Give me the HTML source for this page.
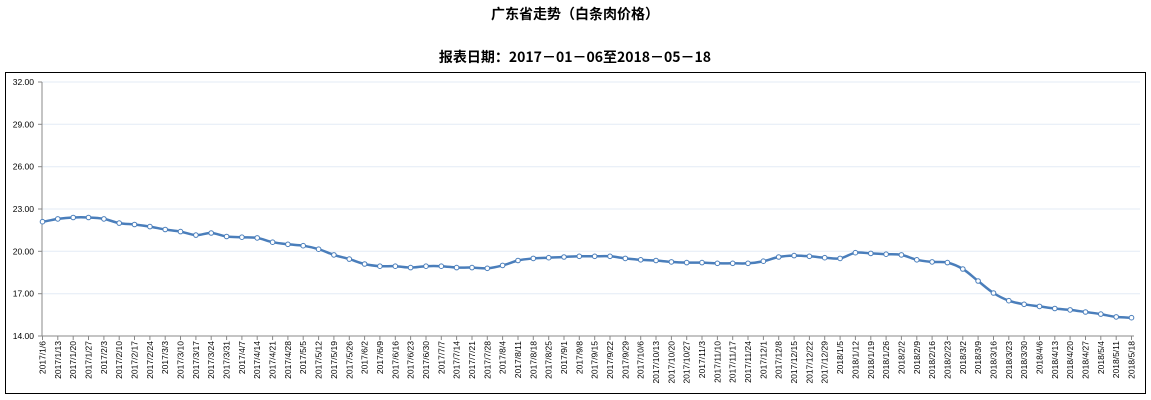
<!DOCTYPE html><html><head><meta charset="utf-8"><style>body{margin:0;background:#fff}svg{display:block}</style></head><body>
<svg id="s" width="1151" height="400" xmlns="http://www.w3.org/2000/svg" font-family="Liberation Sans, Noto Sans CJK SC, sans-serif">
<text x="575" y="19" text-anchor="middle" font-size="14" font-weight="bold" font-family="Noto Sans CJK SC, sans-serif">广东省走势（白条肉价格）</text>
<text x="575" y="62" text-anchor="middle" font-size="14" font-weight="bold" font-family="Noto Sans CJK SC, sans-serif">报表日期：2017－01－06至2018－05－18</text>
<rect x="5.5" y="72.5" width="1140" height="321" fill="none" stroke="#000" stroke-width="1"/>
<g id="g"></g>
</svg>
<script>
var v=[22.1,22.3,22.4,22.4,22.3,22.0,21.9,21.75,21.55,21.4,21.15,21.3,21.05,21.0,20.95,20.65,20.5,20.4,20.15,19.75,19.45,19.1,18.95,18.95,18.85,18.95,18.95,18.85,18.85,18.8,19.0,19.35,19.5,19.55,19.6,19.65,19.65,19.65,19.5,19.4,19.35,19.25,19.2,19.2,19.15,19.15,19.15,19.3,19.6,19.7,19.65,19.55,19.5,19.9,19.85,19.8,19.75,19.4,19.25,19.2,18.75,17.9,17.05,16.5,16.25,16.1,15.95,15.85,15.7,15.55,15.35,15.3];
var X0=42.5,DX=(1131.5-42.5)/71,Y=function(t){return 336-(t-14)*254/18};
var h='';
for(var k=0;k<=6;k++){var t=14+3*k,y=Y(t).toFixed(1);
 if(k>0)h+='<line x1="42" x2="1140" y1="'+y+'" y2="'+y+'" stroke="#e3ebf5"/>';
 h+='<line x1="38" x2="42" y1="'+y+'" y2="'+y+'" stroke="#888"/>';
 h+='<text x="34" y="'+(+y+3)+'" text-anchor="end" font-size="8.5">'+t.toFixed(2)+'</text>';}
h+='<line x1="42" x2="42" y1="82" y2="336" stroke="#888"/><line x1="42" x2="1134" y1="336" y2="336" stroke="#888"/>';
var d=new Date(2017,0,6);
for(var i=0;i<72;i++){var x=X0+DX*i;
 h+='<line x1="'+x.toFixed(1)+'" x2="'+x.toFixed(1)+'" y1="336" y2="340" stroke="#888"/>';
 var lab=d.getFullYear()+'/'+(d.getMonth()+1)+'/'+d.getDate();
 h+='<text transform="translate('+(x+3).toFixed(1)+',341) rotate(-90)" text-anchor="end" font-size="8.5">'+lab+'</text>';
 d.setDate(d.getDate()+7);}
var p='M'+X0+','+Y(v[0]);
for(var i=0;i<v.length-1;i++){var x0=X0+DX*(i-1),x1=X0+DX*i,x2=X0+DX*(i+1),x3=X0+DX*(i+2);
 var y0=Y(v[Math.max(i-1,0)]),y1=Y(v[i]),y2=Y(v[i+1]),y3=Y(v[Math.min(i+2,v.length-1)]);
 p+=' C'+(x1+(x2-x0)/6).toFixed(1)+','+(y1+(y2-y0)/6).toFixed(1)+' '+(x2-(x3-x1)/6).toFixed(1)+','+(y2-(y3-y1)/6).toFixed(1)+' '+x2.toFixed(1)+','+y2.toFixed(1);}
h+='<path d="'+p+'" fill="none" stroke="#4a7ebb" stroke-width="2.5"/>';
for(var i=0;i<v.length;i++)h+='<circle cx="'+(X0+DX*i).toFixed(1)+'" cy="'+Y(v[i]).toFixed(1)+'" r="2.3" fill="#fff" stroke="#4a7ebb" stroke-width="1"/>';
document.getElementById('g').innerHTML=h;
</script>
</body></html>
